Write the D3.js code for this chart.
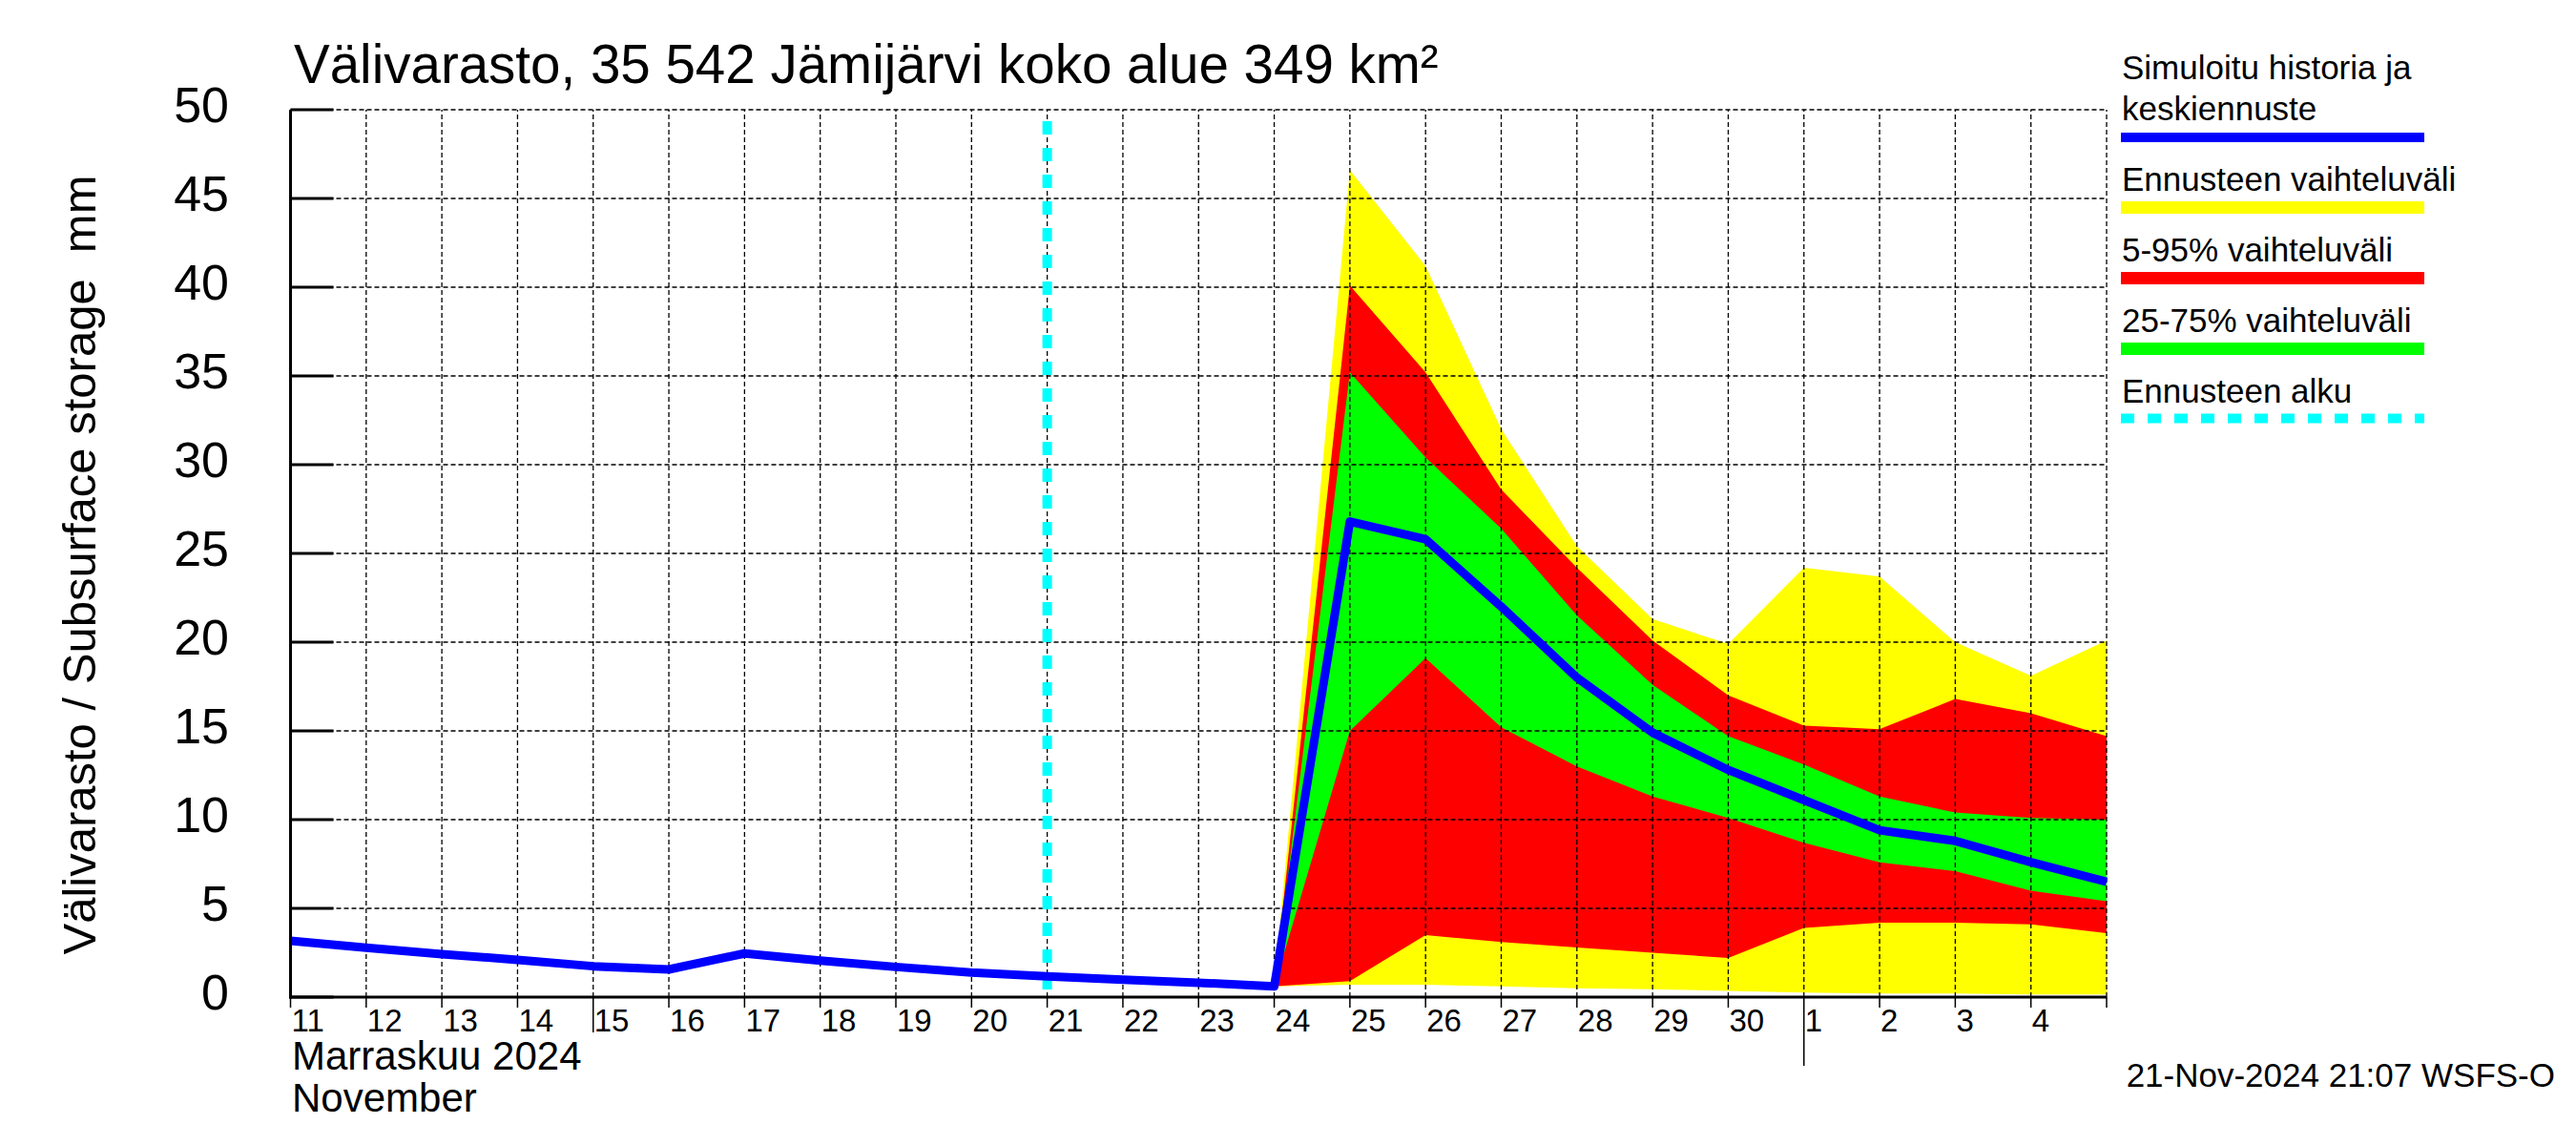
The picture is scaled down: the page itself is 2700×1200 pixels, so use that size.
<!DOCTYPE html>
<html>
<head>
<meta charset="utf-8">
<script src="https://cdn.jsdelivr.net/npm/d3@7"></script>
<style>
  body { margin: 0; background: #fff; }
  svg { display: block; font-family: "Liberation Sans", Arial, sans-serif; }
  text { white-space: pre; }
</style>
</head>
<body>
<svg width="2700" height="1200"></svg>
<script>
// Välivarasto chart, WSFS style: history line + forecast bands

const width = 2700;
const height = 1200;
const margin = { top: 115, right: 492, bottom: 155, left: 304.5 };

const startDay = new Date(Date.UTC(2024, 10, 11));
const endDay = new Date(Date.UTC(2024, 11, 5));
const forecastStart = new Date(Date.UTC(2024, 10, 21));

// simulated history, one value per day from 11 Nov to 24 Nov
const historyValues = [3.17, 2.78, 2.42, 2.1, 1.74, 1.56, 2.46, 2.06, 1.7, 1.38, 1.17, 0.98, 0.81, 0.6];

// forecast, one value per day from 24 Nov to 5 Dec
const medianValues = [0.6, 26.8, 25.8, 22.0, 18.0, 14.9, 12.8, 11.1, 9.4, 8.8, 7.6, 6.5];
const maxValues = [0.6, 46.6, 41.2, 32.0, 25.4, 21.3, 19.9, 24.2, 23.7, 20.0, 18.1, 20.1];
const minValues = [0.6, 0.7, 0.7, 0.6, 0.5, 0.45, 0.35, 0.25, 0.2, 0.2, 0.15, 0.15];
const p95Values = [0.6, 40.1, 35.2, 28.6, 24.2, 20.1, 17.0, 15.3, 15.1, 16.8, 16.0, 14.7];
const p05Values = [0.6, 0.9, 3.5, 3.1, 2.8, 2.5, 2.2, 3.9, 4.2, 4.2, 4.1, 3.6];
const p75Values = [0.6, 35.2, 30.4, 26.4, 21.5, 17.6, 14.7, 13.1, 11.3, 10.4, 10.1, 10.0];
const p25Values = [0.6, 15.0, 19.1, 15.2, 13.0, 11.3, 10.1, 8.7, 7.6, 7.1, 6.0, 5.4];

const yTicks = [0, 5, 10, 15, 20, 25, 30, 35, 40, 45, 50];

const legendItems = [
  { lines: ["Simuloitu historia ja", "keskiennuste"], color: "#0000ff", width: 10, dash: null },
  { lines: ["Ennusteen vaihteluväli"], color: "#ffff00", width: 13, dash: null },
  { lines: ["5-95% vaihteluväli"], color: "#ff0000", width: 13, dash: null },
  { lines: ["25-75% vaihteluväli"], color: "#00ff00", width: 13, dash: null },
  { lines: ["Ennusteen alku"], color: "#00ffff", width: 10, dash: "14,14" },
];

const svg = d3.select("svg");

const x = d3
  .scaleUtc()
  .domain([startDay, endDay])
  .range([margin.left, width - margin.right]);

const y = d3
  .scaleLinear()
  .domain([0, 50])
  .range([height - margin.bottom, margin.top]);

const historyDates = historyValues.map((v, i) => d3.utcDay.offset(startDay, i));
const forecastDates = medianValues.map((v, i) => d3.utcDay.offset(startDay, 13 + i));
const allDays = d3.utcDay.range(startDay, d3.utcDay.offset(endDay, 1));

const band = (lower, upper) => {
  return d3
    .area()
    .x((d, i) => x(forecastDates[i]))
    .y0((d, i) => y(lower[i]))
    .y1((d, i) => y(upper[i]))(lower);
};

// bands
svg.append("path").attr("d", band(minValues, maxValues)).attr("fill", "#ffff00");
svg.append("path").attr("d", band(p05Values, p95Values)).attr("fill", "#ff0000");
svg.append("path").attr("d", band(p25Values, p75Values)).attr("fill", "#00ff00");

// grid
const grid = svg.append("g").attr("stroke", "#000").attr("stroke-width", 1.3).attr("stroke-dasharray", "5,3");

grid
  .selectAll(".hgrid")
  .data(yTicks.filter((t) => t > 0))
  .enter()
  .append("line")
  .attr("x1", margin.left)
  .attr("x2", width - margin.right)
  .attr("y1", (d) => y(d))
  .attr("y2", (d) => y(d));

grid
  .selectAll(".vgrid")
  .data(allDays.slice(1))
  .enter()
  .append("line")
  .attr("x1", (d) => x(d))
  .attr("x2", (d) => x(d))
  .attr("y1", y(0))
  .attr("y2", y(50));

// forecast start
svg
  .append("line")
  .attr("x1", x(forecastStart))
  .attr("x2", x(forecastStart))
  .attr("y1", y(50))
  .attr("y2", y(0))
  .attr("stroke", "#00ffff")
  .attr("stroke-width", 10)
  .attr("stroke-dasharray", "14,14")
  .attr("stroke-dashoffset", 16);

// median line
const line = d3
  .line()
  .x((d) => x(d.date))
  .y((d) => y(d.value));

const medianSeries = historyValues
  .map((v, i) => ({ date: historyDates[i], value: v }))
  .concat(medianValues.slice(1).map((v, i) => ({ date: forecastDates[i + 1], value: v })));

svg
  .append("path")
  .attr("d", line(medianSeries))
  .attr("fill", "none")
  .attr("stroke", "#0000ff")
  .attr("stroke-width", 9)
  .attr("stroke-linejoin", "round");

// y axis
svg
  .append("line")
  .attr("x1", margin.left)
  .attr("x2", margin.left)
  .attr("y1", y(50))
  .attr("y2", y(0) + 1.5)
  .attr("stroke", "#000")
  .attr("stroke-width", 3);

svg
  .selectAll(".ytick")
  .data(yTicks)
  .enter()
  .append("line")
  .attr("x1", margin.left)
  .attr("x2", margin.left + 45)
  .attr("y1", (d) => y(d))
  .attr("y2", (d) => y(d))
  .attr("stroke", "#000")
  .attr("stroke-width", 3);

svg
  .selectAll(".ylabel")
  .data(yTicks)
  .enter()
  .append("text")
  .attr("x", 240)
  .attr("y", (d) => y(d) + 13)
  .attr("text-anchor", "end")
  .attr("font-size", 52)
  .text((d) => d);

svg
  .append("text")
  .attr("transform", "translate(100,592) rotate(-90)")
  .attr("text-anchor", "middle")
  .attr("font-size", 49)
  .text("Välivarasto / Subsurface storage  mm");

// x axis
svg
  .append("line")
  .attr("x1", margin.left - 1.5)
  .attr("x2", width - margin.right)
  .attr("y1", y(0))
  .attr("y2", y(0))
  .attr("stroke", "#000")
  .attr("stroke-width", 3);

svg
  .selectAll(".xtick")
  .data(allDays)
  .enter()
  .append("line")
  .attr("x1", (d) => x(d))
  .attr("x2", (d) => x(d))
  .attr("y1", y(0))
  .attr("y2", (d) => {
    if (d.getUTCDate() === 1) return y(0) + 72;
    if (d.getUTCDate() === 15) return y(0) + 37;
    return y(0) + 11;
  })
  .attr("stroke", "#000")
  .attr("stroke-width", 1.5);

svg
  .selectAll(".xlabel")
  .data(allDays.slice(0, -1))
  .enter()
  .append("text")
  .attr("x", (d) => x(d) + 1)
  .attr("y", 1081)
  .attr("font-size", 33)
  .text((d) => d.getUTCDate());

svg.append("text").attr("x", 306).attr("y", 1121).attr("font-size", 42).text("Marraskuu 2024");
svg.append("text").attr("x", 306).attr("y", 1165).attr("font-size", 42).text("November");

// title
svg
  .append("text")
  .attr("x", 308)
  .attr("y", 87)
  .attr("font-size", 56.5)
  .text("Välivarasto, 35 542 Jämijärvi koko alue 349 km²");

// timestamp
svg
  .append("text")
  .attr("x", 2678)
  .attr("y", 1139)
  .attr("text-anchor", "end")
  .attr("font-size", 35)
  .text("21-Nov-2024 21:07 WSFS-O");

// legend
const legendX = 2223;
const legendBaselines = [83, 200, 274, 348, 422];
const legendLineY = [144, 217.5, 291.5, 365.5, 438.5];

const legend = svg
  .append("g")
  .selectAll("g")
  .data(legendItems)
  .enter()
  .append("g");

legend
  .selectAll("text")
  .data((d, i) => d.lines.map((t, j) => ({ t: t, y: legendBaselines[i] + j * 43 })))
  .enter()
  .append("text")
  .attr("x", legendX + 1)
  .attr("y", (d) => d.y)
  .attr("font-size", 35)
  .text((d) => d.t);

legend
  .append("line")
  .attr("x1", legendX)
  .attr("x2", legendX + 318)
  .attr("y1", (d, i) => legendLineY[i])
  .attr("y2", (d, i) => legendLineY[i])
  .attr("stroke", (d) => d.color)
  .attr("stroke-width", (d) => d.width)
  .attr("stroke-dasharray", (d) => d.dash);
</script>
</body>
</html>
